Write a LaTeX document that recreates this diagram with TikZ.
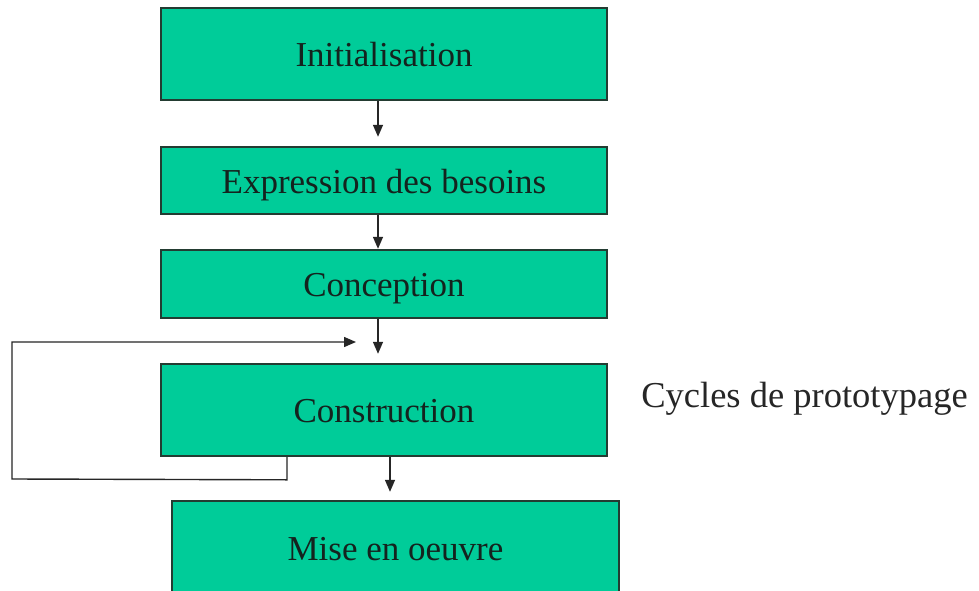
\documentclass[tikz,border=0pt]{standalone}
\usepackage{fontspec}
\setmainfont{Liberation Serif}
\usetikzlibrary{arrows.meta}
\definecolor{stepgreen}{RGB}{0,204,153}
\definecolor{stepborder}{RGB}{35,60,50}
\definecolor{stepink}{RGB}{20,35,30}
\tikzset{
  stepbox/.style={draw=stepborder, line width=1.6pt, fill=stepgreen,
    minimum width=446pt, inner sep=0pt, text=stepink,
    text height=29pt, text depth=4pt,
    font=\fontsize{35}{40}\selectfont},
  flow/.style={draw=black!85, line width=1.4pt,
    -{Triangle[length=12pt,width=10pt]}}
}
\begin{document}
\begin{tikzpicture}[x=1pt,y=-1pt]
  \clip (0,0) rectangle (979,591);
  \fill[white] (0,0) rectangle (979,591);

  % process stages
  \node[stepbox, minimum height=92pt] (init) at (384,54) {Initialisation};
  \node[stepbox, minimum height=67pt] (besoins) at (384,180.5) {Expression des besoins};
  \node[stepbox, minimum height=68pt] (conception) at (384,284) {Conception};
  \node[stepbox, minimum height=92pt] (construction) at (384,410) {Construction};
  \node[stepbox, minimum height=93pt, minimum width=447pt] (mise) at (395.5,547.5) {Mise en oeuvre};

  % side label
  \node[anchor=base, inner sep=0pt, text=black!85,
        font=\fontsize{36.5}{40}\selectfont] (cycles) at (804.5,407) {Cycles de prototypage};

  % arrows between stages
  \draw[flow] ([xshift=-6pt]init.south) -- ++(0,36);
  \draw[flow] ([xshift=-6pt]besoins.south) -- ++(0,34);
  \draw[flow] ([xshift=-6pt]conception.south) -- ++(0,35);
  \draw[flow] ([xshift=6pt]construction.south) -- ++(0,35);

  % prototyping loop back to the construction input
  \coordinate (loopend) at (356,342);
  \coordinate (loopleft) at (12,479);
  \draw[flow] ([xshift=-97pt]construction.south) -- ++(0,23) -- (loopleft) |- (loopend);
\end{tikzpicture}
\end{document}
